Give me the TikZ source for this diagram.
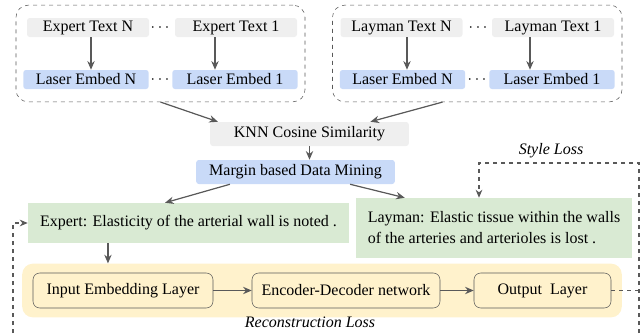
\documentclass[tikz,border=0pt]{standalone}
\usepackage{fontspec}
\setmainfont{Liberation Serif}
\usepackage{tikz}
\usetikzlibrary{shapes}
\usetikzlibrary{arrows}
\usetikzlibrary{arrows.meta}
\usetikzlibrary{positioning}
\usetikzlibrary{fit}
\usetikzlibrary{backgrounds}
\definecolor{grisclair}{RGB}{239,239,239}
\definecolor{bleuclair}{RGB}{201,218,248}
\definecolor{vertclair}{RGB}{217,234,211}
\definecolor{jaune}{RGB}{255,242,204}
\definecolor{gris}{RGB}{89,89,89}
\tikzstyle{texte}=[rectangle,fill=grisclair,rounded corners=2pt,
minimum width=91.5pt,minimum height=14.25pt,inner sep=1pt]
\tikzstyle{embed}=[rectangle,fill=bleuclair,rounded corners=2pt,
minimum width=94pt,minimum height=14.25pt,inner sep=1pt]
\tikzstyle{groupe}=[draw=gris,dashed,rounded corners=9pt,
inner xsep=5.3pt,inner ysep=9.4pt]
\tikzstyle{etape}=[rectangle,rounded corners=2pt,minimum width=149pt,
minimum height=18pt,inner sep=1pt]
\tikzstyle{phrase}=[rectangle,fill=vertclair,inner sep=2pt]
\tikzstyle{couche}=[rectangle,draw=gris,fill=jaune,rounded corners=5pt,
minimum height=26.25pt,inner sep=1pt]
\tikzstyle{bande}=[rectangle,fill=jaune,rounded corners=8pt,
inner xsep=7.9pt,inner ysep=6.8pt]
\tikzstyle{titre}=[font=\fontsize{12}{14}\selectfont\itshape,inner sep=1pt]
\tikzstyle{suite}=[->,>={Stealth[length=6.5pt,width=5.5pt]},draw=gris,fill=gris,line width=0.9pt]
\tikzstyle{perte}=[->,>={Stealth[length=6pt,width=5pt]},draw=gris,dashed,line width=0.8pt]

\begin{document}
\begin{tikzpicture}[x=0.75pt,y=-0.75pt,font=\fontsize{12}{15.75}\selectfont]
\useasboundingbox (0,0) rectangle (644,333);
\node[texte] (expN) at (88,27.5) {Expert Text N};
\node (ptE1) at (160,27.5) {$\cdots$};
\node[texte] (exp1) at (236,27.5) {Expert Text 1};
\node[embed] (embEN) at (86,79.5) {Laser Embed N};
\node (ptE2) at (160,79.5) {$\cdots$};
\node[embed] (embE1) at (235,79.5) {Laser Embed 1};
\node[groupe,fit=(expN)(exp1)(embEN)(embE1)] (grpE) {};
\node[texte] (layN) at (401.5,27.5) {Layman Text N};
\node (ptL1) at (478,27.5) {$\cdots$};
\node[texte] (lay1) at (553,27.5) {Layman Text 1};
\node[embed] (embLN) at (402.5,79.5) {Laser Embed N};
\node (ptL2) at (477,79.5) {$\cdots$};
\node[embed] (embL1) at (552,79.5) {Laser Embed 1};
\node[groupe,fit=(layN)(lay1)(embLN)(embL1)] (grpL) {};
\node[etape,fill=grisclair] (knn) at (309.5,134) {KNN Cosine Similarity};
\node[etape,fill=bleuclair] (mine) at (295.5,172) {Margin based Data Mining};
\node[phrase,minimum width=240.75pt,minimum height=30pt] (expert) at (188.5,223)
{Expert: Elasticity of the arterial wall is noted .};
\node[phrase,minimum width=207pt,minimum height=45pt,align=left] (layman) at (494,228)
{Layman: Elastic tissue within the walls\\of the arteries and arterioles is lost .};
\node[couche,minimum width=135pt] (inp) at (123,290.5) {Input Embedding Layer};
\node[couche,minimum width=141pt] (enc) at (346,290.5) {Encoder-Decoder network};
\node[couche,minimum width=102.75pt] (out) at (542.5,290.5) {Output~~Layer};
\begin{scope}[on background layer]
\node[bande,fit=(inp)(enc)(out)] (recon) {};
\end{scope}
\node[titre] (lrecon) at (310,322) {Reconstruction Loss};
\node[titre] (lstyle) at (551,151) {Style Loss};
\coordinate (c1) at (639,333);
\coordinate (c2) at (639,163);
\coordinate (c3) at (479,163);
\coordinate (c4) at (13,333);
%Placement des flèches
\draw[suite] (expN.south -| 91,0) -- (embEN.north -| 91,0);
\draw[suite] (exp1.south -| 215,0) -- (embE1.north -| 215,0);
\draw[suite] (layN.south -| 407,0) -- (embLN.north -| 407,0);
\draw[suite] (lay1.south -| 530,0) -- (embL1.north -| 530,0);
\draw[suite] (grpE.south) -- ([xshift=6pt]knn.north west);
\draw[suite] ([xshift=-26pt]grpL.south) -- ([xshift=-29pt]knn.north east);
\draw[suite] (knn.south) -- (knn.south |- mine.north);
\draw[suite] ([xshift=25.5pt]mine.south west) -- ([xshift=-17.6pt]expert.north);
\draw[suite] ([xshift=-33.75pt]mine.south east) -- ([xshift=36.75pt]layman.north west);
\draw[suite] ([xshift=-60.4pt]expert.south) -- ([xshift=-60.4pt]expert.south |- recon.north);
\draw[suite] (inp) -- (enc);
\draw[suite] (enc) -- (out);
\draw[perte,-] (out.east) -- (out.east -| c1);
\draw[perte] (c1) -- (c2) -- (c3) -- (c3 |- layman.north);
\draw[perte] (c4) |- (expert.west);
\end{tikzpicture}
\end{document}
